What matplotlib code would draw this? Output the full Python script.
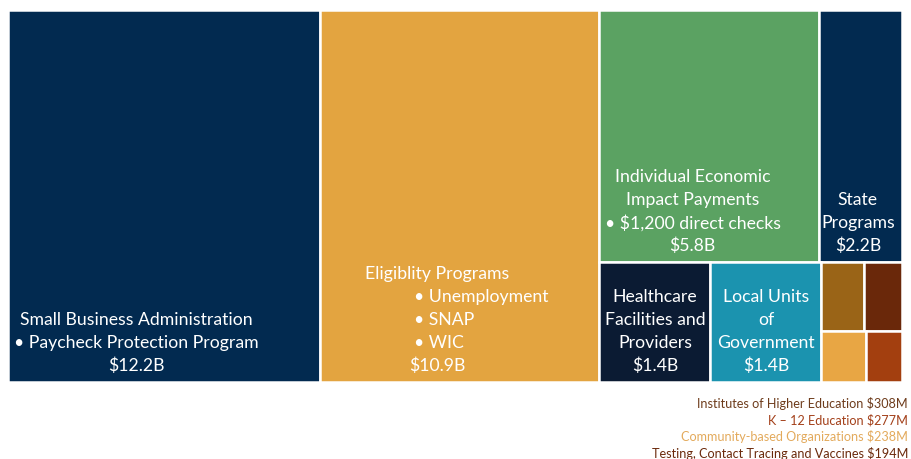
import matplotlib
matplotlib.use('Agg')
import matplotlib.pyplot as plt
from matplotlib.patches import Rectangle

plt.rcParams['font.family'] = ['Lato', 'DejaVu Sans']

# values in $ billions
names = ['Small Business Administration', 'Eligiblity Programs',
         'Individual Economic Impact Payments', 'State Programs',
         'Healthcare Facilities and Providers', 'Local Units of Government',
         'Institutes of Higher Education', 'K \u2013 12 Education',
         'Community-based Organizations', 'Testing, Contact Tracing and Vaccines']
values = [12.2, 10.9, 5.8, 2.2, 1.4, 1.4, 0.308, 0.277, 0.238, 0.194]
amounts = ['$12.2B', '$10.9B', '$5.8B', '$2.2B', '$1.4B', '$1.4B',
           '$308M', '$277M', '$238M', '$194M']
colors = ['#022A50', '#E3A440', '#5BA262', '#022A50', '#0B1B33', '#1B93AF',
          '#9A6417', '#6A280A', '#E8A644', '#A33F0F']
small_text_colors = ['#6E3C1C', '#A3401A', '#E3AA5C', '#6B2A0C']

# box labels (all lines above the amount)
box_lines = {
    0: [('Small Business Administration', 0.41, 'center'),
        ('\u2022 Paycheck Protection Program', 0.41, 'center')],
    1: [('Eligiblity Programs', 0.42, 'center'),
        ('\u2022 Unemployment', 0.335, 'left'),
        ('\u2022 SNAP', 0.335, 'left'),
        ('\u2022 WIC', 0.335, 'left')],
    2: [('Individual Economic', 0.425, 'center'),
        ('Impact Payments', 0.425, 'center'),
        ('\u2022 $1,200 direct checks', 0.425, 'center')],
    3: [('State', 0.47, 'center'), ('Programs', 0.47, 'center')],
    4: [('Healthcare', 0.5, 'center'), ('Facilities and', 0.5, 'center'),
        ('Providers', 0.5, 'center')],
    5: [('Local Units', 0.5, 'center'), ('of', 0.5, 'center'),
        ('Government', 0.5, 'center')],
}
amount_x = {0: 0.41, 1: 0.42, 2: 0.425, 3: 0.47, 4: 0.5, 5: 0.5}

# nesting of the treemap; direction alternates: across, down, across...
tree = [0, 1, [[2, 3], [4, 5, [[6, 7], [8, 9]]]]]


def total(node):
    if isinstance(node, list):
        return sum(total(n) for n in node)
    return values[node]


rects = {}


def layout(node, x, y, w, h, depth):
    if not isinstance(node, list):
        rects[node] = (x, y, w, h)
        return
    s = total(node)
    pos = 0
    for child in node:
        f = total(child) / s
        if depth % 2 == 0:
            layout(child, x + pos * w, y, w * f, h, depth + 1)
        else:
            layout(child, x, y + pos * h, w, h * f, depth + 1)
        pos += f


W, H = 894, 372
layout(tree, 0, 0, W, H, 0)

fig = plt.figure(figsize=(9.11, 4.59), dpi=100)
ax = fig.add_axes([8 / 911, 1 - 382 / 459, W / 911, H / 459])
ax.set_xlim(0, W)
ax.set_ylim(H, 0)
ax.axis('off')

for i, (x, y, w, h) in rects.items():
    ax.add_patch(Rectangle((x, y), w, h, facecolor=colors[i],
                           edgecolor='white', linewidth=1.8))

fs = 12.7
line_h = 23
for i, lines in box_lines.items():
    x, y, w, h = rects[i]
    base = y + h - 16
    ax.text(x + amount_x[i] * w, base, amounts[i], color='white', fontsize=fs,
            ha='center', va='center')
    for k, (txt, fx, ha) in enumerate(reversed(lines)):
        ax.text(x + fx * w, base - (k + 1) * line_h, txt, color='white',
                fontsize=fs, ha=ha, va='center')

# small categories listed under the chart
for k, i in enumerate(range(6, 10)):
    fig.text(908 / 911, 1 - (403 + k * 16.8) / 459, names[i] + ' ' + amounts[i],
             color=small_text_colors[k], fontsize=9.1, ha='right', va='center')

fig.savefig('out.png', dpi=100)
